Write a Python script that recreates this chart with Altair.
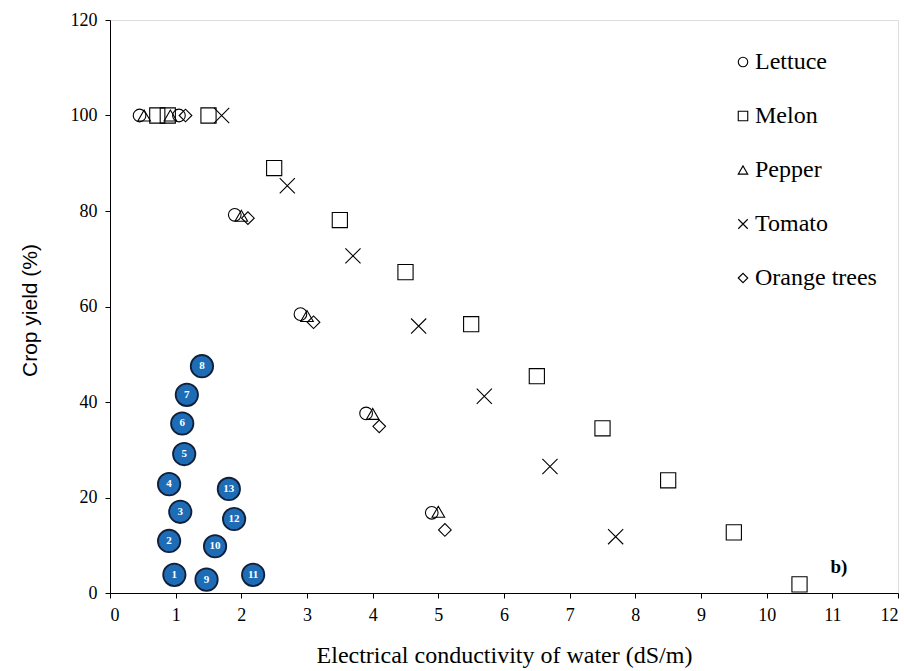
import altair as alt
import pandas as pd

# Crop yield curves (x: ECw dS/m, y: yield %)
lettuce_x = [0.45, 1.05, 1.9, 2.9, 3.9, 4.9]
lettuce_y = [100, 100, 79.2, 58.4, 37.6, 16.8]
melon_x = [0.72, 0.88, 1.5, 2.5, 3.5, 4.5, 5.5, 6.5, 7.5, 8.5, 9.5, 10.5]
melon_y = [100, 100, 100, 89.0, 78.1, 67.2, 56.3, 45.4, 34.5, 23.6, 12.7, 1.8]
pepper_x = [0.52, 0.92, 2.0, 3.0, 4.0, 5.0]
pepper_y = [100, 100, 79.0, 58.0, 37.5, 17.0]
tomato_x = [1.7, 2.7, 3.7, 4.7, 5.7, 6.7, 7.7]
tomato_y = [100, 85.3, 70.6, 55.9, 41.2, 26.5, 11.8]
orange_x = [1.15, 2.1, 3.1, 4.1, 5.1]
orange_y = [100, 78.5, 56.7, 34.9, 13.2]

crops = ["Lettuce", "Melon", "Pepper", "Tomato", "Orange trees"]

# Numbered sample points
sample_id = ["1", "2", "3", "4", "5", "6", "7", "8", "9", "10", "11", "12", "13"]
sample_x = [0.98, 0.9, 1.07, 0.9, 1.13, 1.1, 1.17, 1.4, 1.47, 1.6, 2.18, 1.89, 1.81]
sample_y = [3.8, 10.9, 17.0, 22.8, 29.1, 35.5, 41.5, 47.5, 2.8, 9.8, 3.8, 15.5, 21.8]

rows = []
for name, xs_, ys_ in zip(crops,
                          [lettuce_x, melon_x, pepper_x, tomato_x, orange_x],
                          [lettuce_y, melon_y, pepper_y, tomato_y, orange_y]):
    for a, b in zip(xs_, ys_):
        rows.append({"ec": a, "yield": b, "crop": name})
crop_df = pd.DataFrame(rows)
samp_df = pd.DataFrame({"id": sample_id, "ec": sample_x, "yield": sample_y})
tag_df = pd.DataFrame({"t": ["b)"], "ec": [11.1], "yield": [5.4]})

SERIF = "Liberation Serif, Times New Roman, serif"
xs = alt.Scale(domain=[0, 12], nice=False, zero=True)
ys = alt.Scale(domain=[0, 120], nice=False)

x_axis = alt.Axis(values=list(range(0, 13)), format="d",
                  title="Electrical conductivity of water (dS/m)",
                  grid=False, tickSize=5, labelPadding=8, labelFontSize=18, labelFont=SERIF,
                  titleFont=SERIF, titleFontSize=24, titleFontWeight="normal",
                  titleY=62, titleBaseline="middle", domainColor="black", tickColor="black",
                  labelColor="black", titleColor="black")
y_axis = alt.Axis(values=list(range(0, 121, 20)), format="d", title="Crop yield (%)",
                  grid=False, tickSize=5, labelPadding=8, labelFontSize=18, labelFont=SERIF,
                  titleFont="Liberation Sans, Arial, sans-serif", titleFontSize=21,
                  titleFontWeight="normal",
                  titleX=-80, titleY=290, titleBaseline="middle", domainColor="black",
                  tickColor="black", labelColor="black", titleColor="black")

xpath = "M-1,-1L1,1M1,-1L-1,1"
shape_scale = alt.Scale(domain=crops,
                        range=["circle", "square", "triangle-up", xpath, "diamond"])

crop_layer = alt.Chart(crop_df).mark_point(filled=False, color="black", strokeWidth=1.1,
                                           opacity=1).encode(
    x=alt.X("ec:Q", scale=xs, axis=x_axis),
    y=alt.Y("yield:Q", scale=ys, axis=y_axis),
    shape=alt.Shape("crop:N", scale=shape_scale, sort=crops,
                    legend=alt.Legend(title=None, orient="none", legendX=621, legendY=30,
                                      padding=0, labelFont=SERIF, labelFontSize=24,
                                      labelColor="black", rowPadding=30, symbolSize=90,
                                      symbolStrokeColor="black", symbolFillColor="white",
                                      symbolStrokeWidth=1.1, labelOffset=0)),
    size=alt.condition("datum.crop == 'Melon' || datum.crop == 'Tomato'",
                       alt.value(230), alt.value(160)),
)

samp_layer = alt.Chart(samp_df).mark_circle(size=500, color="#1f6cb6", stroke="#10203a",
                                            strokeWidth=1.8, opacity=1).encode(
    x=alt.X("ec:Q", scale=xs), y=alt.Y("yield:Q", scale=ys))
samp_text = alt.Chart(samp_df).mark_text(color="white", font=SERIF, fontWeight="bold",
                                         fontSize=11, baseline="middle").encode(
    x=alt.X("ec:Q", scale=xs), y=alt.Y("yield:Q", scale=ys), text="id:N")
tag = alt.Chart(tag_df).mark_text(font=SERIF, fontWeight="bold", fontSize=19, color="black").encode(
    x=alt.X("ec:Q", scale=xs), y=alt.Y("yield:Q", scale=ys), text="t:N")

chart = alt.layer(crop_layer, samp_layer, samp_text, tag).properties(
    width=788, height=573,
    autosize=alt.AutoSizeParams(type="none"),
    padding={"left": 110, "top": 20, "right": 6, "bottom": 78},
    background="white",
).configure_view(stroke="black", strokeWidth=1.2).configure(font=SERIF)

chart.save("out.html", embed_options={"renderer": "svg", "actions": False})
